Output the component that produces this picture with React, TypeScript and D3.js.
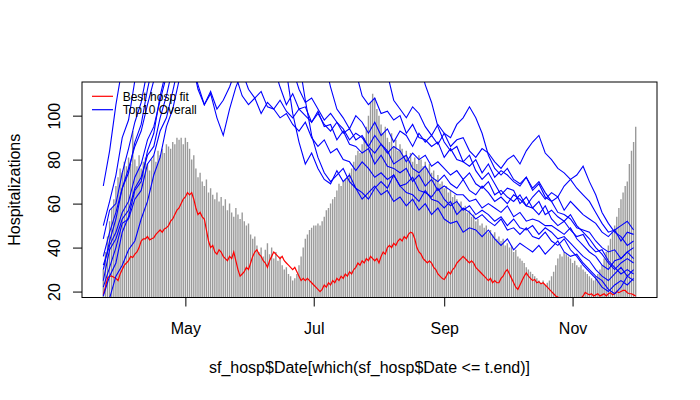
import { useEffect, useRef } from "react";
import * as d3 from "d3";

// daily hospitalizations (gray bars), one value per day from 2020-03-23
const hospBars = [
  30, 38, 45, 52, 58, 62, 68, 72, 76, 74,
  79, 77, 81, 78, 93, 80, 77, 82, 76, 79,
  81, 78, 75, 80, 82, 79, 84, 82, 85, 83,
  87, 86, 85, 88, 87, 90, 89, 90, 87, 90,
  88, 85, 80, 82, 76, 72, 74, 70, 68, 71,
  65, 67, 64, 62, 65, 61, 63, 59, 62, 57,
  60, 56, 54, 58, 55, 53, 56, 52, 50, 51,
  46, 44, 45, 41, 38, 40, 36, 39, 42, 37,
  40, 35, 38, 34, 36, 32, 30, 31, 28, 27,
  25, 26, 28, 32, 36, 40, 44, 46, 48, 49,
  50, 50, 51, 50, 52, 54, 57, 58, 60, 62,
  63, 66, 69, 68, 70, 71, 72, 74, 76, 79,
  82, 84, 83, 87, 90, 95, 100, 106, 110, 108,
  103, 100, 96, 92, 95, 90, 88, 92, 86, 89,
  84, 87, 85, 82, 84, 80, 83, 79, 81, 78,
  82, 80, 77, 79, 76, 78, 74, 75, 71, 73,
  69, 70, 67, 68, 65, 66, 63, 64, 62, 60,
  61, 58, 59, 56, 57, 54, 55, 52, 53, 50,
  51, 49, 50, 47, 48, 46, 47, 44, 45, 43,
  44, 41, 42, 40, 41, 38, 39, 36, 35, 34,
  33, 31, 30, 29, 28, 27, 26, 25, 24, 25,
  23, 24, 25, 27, 29, 32, 35, 37, 36, 38,
  37, 36, 35, 33, 34, 32, 31, 32, 30, 29,
  28, 27, 26, 25, 27, 28, 30, 32, 35, 38,
  41, 44, 47, 50, 54, 58, 62, 65, 68, 70,
  78, 84, 88, 95,
];

// best hospitalization fit (red), daily
const bestFit = [
  18.6, 22, 26, 27, 27, 26.5, 26, 25, 28, 30,
  32, 33, 34, 36, 35.5, 37, 38, 40, 43, 44,
  44, 45, 43.5, 44, 44.5, 46, 47, 48, 47, 48.5,
  49, 50, 52, 53, 55, 57, 58, 60, 62, 63,
  65, 64, 65, 62, 58, 55, 56, 54, 53, 48,
  43, 40, 41, 38, 37, 39, 38, 36, 35, 34,
  36, 35, 38, 34, 30, 27, 28, 29, 31, 30,
  33, 36, 38, 39, 37, 36, 34, 33, 31, 34,
  36, 38, 37, 36, 35, 36, 34, 33, 32, 31,
  30, 31, 29, 27, 25, 26, 25, 26, 25, 24,
  23, 22, 21, 20, 21, 23, 22, 24, 23, 25,
  24, 26, 25, 27, 26, 28, 27, 29, 28, 30,
  31, 33, 32, 34, 33, 35, 34, 36, 35, 34,
  35, 33, 36, 38, 37, 40, 41, 40, 42, 41,
  43, 44, 43, 45, 44, 46, 47, 46.5, 44, 40,
  38, 37, 35, 34, 33, 34, 33, 31, 30, 28,
  27, 26, 25.5, 27, 29, 28, 30, 31, 33, 34,
  35, 36, 35, 34, 33, 34, 33, 31, 30, 29,
  28, 27, 26, 25, 26, 24, 25, 24, 24, 26,
  27, 29, 30, 28, 26, 24, 22, 21, 23, 25,
  27, 28.5, 27, 26, 25, 25.5, 24, 24.5, 23.5, 24,
  23, 22, 21, 20, 19, 18, 17.5, 17, 16.5, 16,
  15.5, 15, 15, 15, 15.5, 16, 16.5, 17, 18, 19.6,
  19, 18.5, 19, 18, 18.5, 19, 18, 18.5, 19, 18,
  19, 19.5, 18.5, 19, 20, 19.5, 20, 20.5, 20.5, 19.5,
  19, 19, 18.5, 18,
];

// top 10 overall runs (blue), one value every 3 days
const top10 = [
  [68, 84, 105, 122, 135, 140, 142, 145, 145, 142, 140, 140, 138,
   138, 140, 140, 138, 136, 138, 140, 140, 138, 136, 136, 138, 140,
   140, 138, 136, 136, 138, 140, 140, 138, 136, 136, 138, 140, 140,
   138, 136, 136, 138, 140, 140, 138, 136, 134, 132, 128, 125,
   114, 106, 95, 88, 84, 86, 79, 82, 75, 71, 74, 69, 64, 67, 66, 60, 63, 58, 55, 59,
   53, 50, 52, 48, 45, 46, 41, 38, 39, 34, 31, 28, 30, 28],
  [50, 61, 73, 90, 98, 116, 128, 135, 142, 148, 152, 155, 158,
   160, 162, 160, 158, 155, 152, 150, 148, 145, 142, 140, 138, 135, 132, 128, 124,
   120, 101, 88, 78, 83, 76, 71, 69, 75, 70,
   73, 67, 62, 65, 68, 64, 66, 61, 63, 59, 62, 57,
   60, 55, 58, 53, 51, 52, 47, 49, 48, 45, 48, 44, 41,
   44, 39, 42, 40, 38, 41, 37, 40, 43, 38, 36, 37, 33, 30, 27, 25, 21, 19, 22, 27, 25],
  [44, 57, 60, 74, 85, 97, 106, 121, 130, 138, 145, 150, 155,
   158, 160, 162, 160, 158, 156, 155, 152, 150, 148, 146, 144, 142, 140, 138, 136,
   134, 132, 130, 128, 130, 128, 125,
   113, 103, 99, 94, 100, 97, 92, 97, 91, 94, 88, 93, 91, 86, 92, 88,
   91, 87, 92, 90, 96, 99, 104, 99, 92, 82, 76, 73,
   76, 71, 69, 72, 67, 70, 65, 61, 63, 57, 61, 58, 55, 53, 51, 47, 45, 48, 43, 47, 46],
  [36, 47, 56, 67, 76, 86, 93, 105, 116, 125, 130, 135, 135,
   130, 124, 114, 105, 111, 103, 107, 113, 121,
   128, 135, 140, 145, 148, 150, 152, 150, 148, 145, 142, 140, 138, 135, 132, 130,
   128, 130, 132, 130, 128, 125, 128,
   119, 107, 103, 99, 104, 101, 95, 91, 96, 92, 86, 89, 90, 84, 81, 85, 83, 79, 76, 80, 82, 78,
   84, 88, 91, 83, 80, 76, 74, 71, 67, 64, 61, 56, 51, 47, 48, 50, 52, 48],
  [32, 41, 47, 56, 61, 72, 78, 89, 95, 107, 118, 128, 136,
   142, 148, 152, 155, 158, 160, 158, 155, 152, 150, 148, 145, 142, 140, 136, 133, 130,
   121, 112, 106, 108, 103, 98, 101, 97, 92, 94, 89, 91, 86, 83, 87, 84, 78, 80, 82, 76, 74,
   77, 72, 70, 73, 69, 67, 71, 66, 64, 68, 65, 61, 63, 60, 64, 62, 59, 63, 66, 62,
   65, 63, 68, 71, 73, 77, 70, 64, 56, 51, 47, 45, 41, 43],
  [25, 39, 44, 53, 57, 67, 72, 82, 86, 99, 109, 122, 130,
   138, 142, 145, 148, 145, 140, 135, 128,
   118, 109, 105, 108, 101, 106, 103, 99, 101, 96, 93, 97, 90, 86, 89, 83, 85, 80, 79, 75,
   79, 76, 72, 74, 71, 73, 68, 69, 72, 66,
   65, 63, 67, 62, 59, 61, 57, 59, 55, 57, 55, 52, 54, 50, 53, 49, 48, 50, 46, 49,
   47, 44, 45, 42, 39, 36, 34, 30, 27, 25, 28, 31, 27, 30],
  [22, 31, 40, 51, 53, 62, 66, 78, 82, 93, 99, 111, 124,
   135, 142, 148, 150, 152, 150, 145, 140, 130,
   120, 112, 108, 111, 104, 103, 107, 102, 99, 103, 100, 97, 101, 96, 93, 97, 94, 89, 92, 90,
   86, 91, 87, 83, 86, 84, 79, 83, 80,
   82, 77, 79, 76, 73, 75, 71, 74, 69, 67, 70, 64, 66, 63, 61, 64, 59, 58, 61, 55,
   57, 54, 52, 55, 50, 47, 44, 40, 37, 33, 30, 33, 35, 33],
  [18, 27, 33, 47, 54, 66, 70, 84, 92, 109, 121, 130, 138,
   145, 150, 155, 160, 162, 165, 162, 160, 158, 155, 152, 150, 148, 145, 142, 140, 138, 135,
   125, 107, 91, 81, 74, 70, 73, 76, 70, 67, 65, 62, 67, 70, 67, 73, 68, 65, 64, 61,
   66, 62, 61, 58, 61, 55, 58, 56, 53, 55, 52, 50, 53, 48, 49, 46, 49, 45, 44, 47,
   43, 41, 44, 39, 36, 32, 29, 26, 22, 20, 23, 25, 23, 26],
  [12, 17, 27, 32, 39, 43, 53, 61, 73, 81, 95, 103, 116,
   130, 140, 150, 158, 165, 170, 172, 170, 168, 165, 162, 160, 158, 155, 152, 150, 148,
   145, 142, 140, 138, 136, 134, 132, 130, 128, 130,
   120, 109, 105, 108, 101, 102, 98, 100, 92, 96, 90, 89, 86, 88, 81, 85, 80, 79, 77, 80,
   74, 78, 72, 75, 73, 70, 68, 72, 66, 69,
   63, 61, 56, 55, 53, 49, 48, 47, 43, 40, 38, 39, 35, 38, 35],
  [30, 43, 53, 67, 74, 88, 96, 112, 125, 132, 135, 135, 132, 128,
   125, 112, 105, 110, 99, 91, 103, 113, 120, 125, 130, 128, 126, 122,
   113, 105, 110, 103, 104, 97, 102, 95, 96, 89, 93, 87, 86, 83, 85, 78, 82, 77, 76, 74,
   76, 70, 73,
   68, 71, 66, 68, 66, 64, 64, 61, 62, 58, 60, 58, 56, 59, 54, 56, 52, 53, 52, 50,
   50, 48, 46, 49, 44, 41, 38, 36, 32, 30, 34, 35, 38, 40],
];

const startDate = new Date(2020, 2, 23);
const top10Step = 3;
const yLim = [17.3, 115.3];
const yTicks = [20, 40, 60, 80, 100];
const xTicks = [new Date(2020, 4, 1), new Date(2020, 6, 1), new Date(2020, 8, 1), new Date(2020, 10, 1)];
const legendItems = [
  { label: "Best hosp fit", color: "#ff0000" },
  { label: "Top10 Overall", color: "#0000ff" },
];

export default function HospChart() {
  const ref = useRef<HTMLDivElement>(null);

  useEffect(() => {
    if (!ref.current) return;
    d3.select(ref.current).selectAll("*").remove();

    const W = 700;
    const H = 400;
    const left = 82;
    const right = 657;
    const top = 82;
    const bottom = 297.5;
    const font = "'Liberation Sans', Arial, Helvetica, sans-serif";

    const days = hospBars.map((_, i) => d3.timeDay.offset(startDate, i));
    const runDays = top10[0].map((_, i) => d3.timeDay.offset(startDate, i * top10Step));

    // R style 4% padding on x
    const t0 = +days[0];
    const t1 = +days[days.length - 1];
    const pad = (t1 - t0) * 0.04;
    const x = d3.scaleTime().domain([new Date(t0 - pad), new Date(t1 + pad)]).range([left, right]);
    const y = d3.scaleLinear().domain(yLim).range([bottom, top]);

    const svg = d3
      .select(ref.current)
      .append("svg")
      .attr("width", W)
      .attr("height", H)
      .style("position", "absolute")
      .style("left", "0px")
      .style("top", "0px")
      .style("background", "#fff")
      .style("font-family", font);

    svg
      .append("defs")
      .append("clipPath")
      .attr("id", "plotclip")
      .append("rect")
      .attr("x", left)
      .attr("y", top)
      .attr("width", right - left)
      .attr("height", bottom - top);

    const plot = svg.append("g").attr("clip-path", "url(#plotclip)");

    // bars (type = "h")
    plot
      .selectAll(".bar")
      .data(hospBars)
      .enter()
      .append("line")
      .attr("x1", (_, i) => x(days[i]))
      .attr("x2", (_, i) => x(days[i]))
      .attr("y1", bottom + 2)
      .attr("y2", (d) => y(d))
      .attr("stroke", "#9a9a9a")
      .attr("stroke-width", 1.4);

    const line = d3
      .line<number>()
      .x((_, i) => x(days[i]))
      .y((d) => y(d));

    plot
      .append("path")
      .datum(bestFit)
      .attr("d", line)
      .attr("fill", "none")
      .attr("stroke", "#ff0000")
      .attr("stroke-width", 1.2);

    const runLine = d3
      .line<number>()
      .x((_, i) => x(runDays[i]))
      .y((d) => y(d));

    plot
      .selectAll(".run")
      .data(top10)
      .enter()
      .append("path")
      .attr("d", (d) => runLine(d))
      .attr("fill", "none")
      .attr("stroke", "#0000ff")
      .attr("stroke-width", 1.1);

    // box
    svg
      .append("rect")
      .attr("x", left)
      .attr("y", top)
      .attr("width", right - left)
      .attr("height", bottom - top)
      .attr("fill", "none")
      .attr("stroke", "#000")
      .attr("stroke-width", 1);

    // x axis
    const xa = svg
      .append("g")
      .attr("transform", `translate(0,${bottom})`)
      .call(
        d3
          .axisBottom(x)
          .tickValues(xTicks)
          .tickFormat((d) => d3.timeFormat("%b")(d as Date))
          .tickSize(9)
          .tickPadding(16)
      );
    xa.select(".domain").remove();
    xa.selectAll("line").attr("stroke", "#000");
    xa.selectAll("text").attr("font-size", 16).attr("font-family", font).attr("fill", "#000");

    // y axis, labels parallel to the axis
    const ya = svg
      .append("g")
      .attr("transform", `translate(${left},0)`)
      .call(d3.axisLeft(y).tickValues(yTicks).tickSize(9));
    ya.select(".domain").remove();
    ya.selectAll("line").attr("stroke", "#000");
    ya.selectAll("text")
      .attr("x", null)
      .attr("dy", null)
      .attr("transform", "translate(-22,0) rotate(-90)")
      .attr("text-anchor", "middle")
      .attr("font-size", 16)
      .attr("font-family", font)
      .attr("fill", "#000");

    // axis titles
    svg
      .append("text")
      .attr("x", (left + right) / 2)
      .attr("y", 373)
      .attr("text-anchor", "middle")
      .attr("font-size", 16)
      .text("sf_hosp$Date[which(sf_hosp$Date <= t.end)]");

    svg
      .append("text")
      .attr("transform", `translate(20,${(top + bottom) / 2}) rotate(-90)`)
      .attr("text-anchor", "middle")
      .attr("font-size", 16)
      .text("Hospitalizations");

    // legend, no box
    const lg = svg.append("g");
    legendItems.forEach((it, i) => {
      const ly = 96.3 + i * 13.4;
      lg.append("line")
        .attr("x1", 92)
        .attr("x2", 113)
        .attr("y1", ly)
        .attr("y2", ly)
        .attr("stroke", it.color)
        .attr("stroke-width", 1.2);
      lg.append("text")
        .attr("x", 122.7)
        .attr("y", ly + 4.2)
        .attr("font-size", 12)
        .text(it.label);
    });
  }, []);

  return <div ref={ref} />;
}
